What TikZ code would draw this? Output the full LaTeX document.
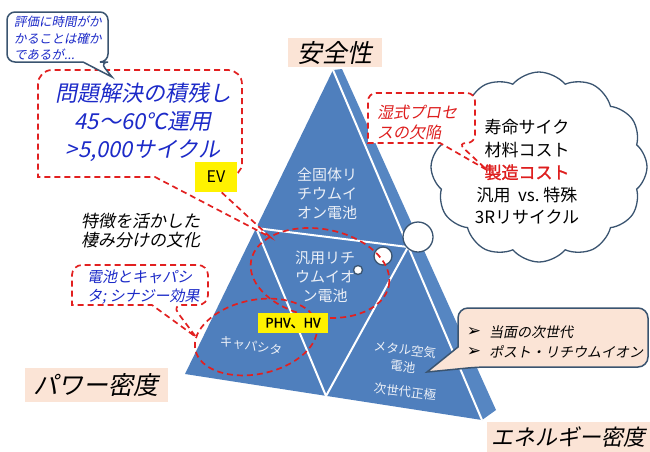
\documentclass[tikz,border=0pt]{standalone}
\usepackage{fontspec}
\setmainfont{Noto Sans CJK JP}
\newfontfamily\jit[FakeSlant=0.2]{Noto Sans CJK JP}
\newfontfamily\jbold[FakeBold=1.5]{Noto Sans CJK JP}
\newfontfamily\djv{DejaVu Sans}
\usetikzlibrary{shapes.symbols}
\definecolor{triblue}{RGB}{79,127,189}
\definecolor{triside}{RGB}{86,134,194}
\definecolor{tritext}{RGB}{236,240,247}
\definecolor{beige}{RGB}{251,228,214}
\definecolor{slate}{RGB}{58,84,112}
\definecolor{dred}{RGB}{226,32,32}
\definecolor{tblue}{RGB}{28,42,200}
\definecolor{rtext}{RGB}{222,30,30}
\newcommand{\fsz}[2]{\fontsize{#1}{#2}\selectfont}
\tikzset{
  wline/.style={white, line width=2pt},
  rdash/.style={draw=dred, line width=1.7pt, dash pattern=on 6pt off 4pt},
  slateline/.style={draw=slate, line width=1.5pt},
  tritxt/.style={text=tritext, align=center, inner sep=0pt},
  lab/.style={fill=beige, inner sep=0pt, font=\jit\fsz{25}{25}},
  thought/.style={draw=slate, line width=1.3pt, fill=white},
  ybox/.style={fill=yellow, inner sep=0pt}
}
\begin{document}
\begin{tikzpicture}[x=1pt,y=-1pt]
\useasboundingbox[fill=white] (0,0) rectangle (650,451);

% triangle
\coordinate (A) at (333,70);
\coordinate (A2) at (342,69);
\coordinate (BL) at (185,374);
\coordinate (BR) at (482,420);
\coordinate (BR2) at (496,410);
\coordinate (L1) at (256,228);
\coordinate (R1) at (408,247);
\coordinate (M) at (326,396);
\fill[triblue] (A) -- (BL) -- (BR) -- cycle;
\fill[triside] (A) -- (A2) -- (BR2) -- (BR) -- cycle;
\draw[wline] (A) -- (BR);
\draw[wline] (L1) -- (R1);
\draw[wline] (L1) -- (M) -- (R1);

\node[tritxt, font=\fsz{15}{19}] (t1) at (327,194) {全固体リ\\チウムイ\\オン電池};
\node[tritxt, font=\fsz{15}{19}] (t2) at (325,277) {汎用リチ\\ウムイオ\\ン電池};
\node[tritxt, font=\fsz{12.5}{14}, rotate=-9] (t3) at (251,346) {キャパシタ};
\node[tritxt, font=\fsz{12.5}{17}, rotate=-7] (t4) at (404,358) {メタル空気\\電池};
\node[tritxt, font=\fsz{12.5}{14}, rotate=-7] (t5) at (405,392) {次世代正極};

% cloud
\node[cloud, cloud puffs=12, cloud puff arc=100, cloud ignores aspect, draw=slate, line width=1.3pt, fill=white,
      minimum width=216pt, minimum height=190pt, inner sep=0pt] (cl) at (539,167) {};
\node[align=center, font=\fsz{17}{22.5}] (ct) at (527,172)
  {寿命サイク\\材料コスト\\{\jbold\color{rtext}製造コスト}\\汎用\ \ vs.\ 特殊\\3Rリサイクル};

% thought circles
\node[thought, circle, minimum size=30pt, inner sep=0pt] (c1) at (418,237) {};
\node[thought, circle, minimum size=18pt, inner sep=0pt] (c2) at (383,256) {};
\node[thought, circle, minimum size=9pt, inner sep=0pt] (c3) at (358,270) {};

% dashed ellipses
\draw[rdash, rotate around={-10:(320,273)}] (320,273) ellipse [x radius=70pt, y radius=44pt];
\draw[rdash, rotate around={12:(256,337)}] (256,337) ellipse [x radius=62pt, y radius=37pt];

\node[ybox, minimum width=70pt, minimum height=20pt, font=\jbold\fsz{13}{13}] (phv) at (293,323) {PHV、HV};

% wet-process callout
\draw[rdash, fill=white] (400,93) [rounded corners=8pt] -- (475,93) -- (475,143) -- (458,143)
  [sharp corners] -- (487,170) -- (440,143) -- (368,143) [rounded corners=8pt] -- (368,93) -- cycle;
\node[anchor=west, align=left, text=rtext, font=\jit\fsz{16}{20}, inner sep=0pt] (wet) at (377,122) {湿式プロセ\\スの欠陥};

% problem callout
\draw[rdash, fill=white] (90,70) [rounded corners=14pt] -- (242,70) -- (242,177) -- (205,177)
  [sharp corners] -- (270,237) -- (155,177) -- (38,177) [rounded corners=14pt] -- (38,70) -- cycle;
\node[align=center, text=tblue, font=\jit\fsz{22}{28}, inner sep=0pt] (prob) at (143,122)
  {問題解決の積残し\\45～60℃運用\\>5,000サイクル};
\node[ybox, minimum width=42pt, minimum height=30pt, font=\fsz{16}{16}] (ev) at (216,177) {EV};

% evaluation bubble
\draw[slateline, fill=white] (50,12) [rounded corners=8pt] -- (108,12) -- (108,62) -- (100,62)
  [sharp corners] -- (112,77) -- (83,62) [rounded corners=8pt] -- (7,62) -- (7,12) -- cycle;
\node[anchor=west, align=left, text=tblue, font=\jit\fsz{12.5}{16.5}, inner sep=0pt] (eval) at (14,38.5)
  {評価に時間がか\\かることは確か\\であるが...};

% culture text
\node[anchor=west, align=left, font=\jit\fsz{17}{19}, inner sep=0pt] (cult) at (81,231) {特徴を活かした\\棲み分けの文化};

% synergy callout
\draw[rdash, fill=white] (120,265) [rounded corners=10pt] -- (208,265) -- (208,305) -- (172,305)
  [sharp corners] -- (196,337) -- (152,305) -- (72,305) [rounded corners=10pt] -- (72,265) -- cycle;
\node[anchor=west, align=left, text=tblue, font=\jit\fsz{15}{19}, inner sep=0pt] (syn) at (87,287.5)
  {電池とキャパシ\\タ; シナジー効果};

% next-generation callout
\draw[slateline, fill=beige] (550,308) [rounded corners=10pt] -- (648,308) -- (648,367) -- (478,367)
  [sharp corners] -- (427,372) -- (458,347) [rounded corners=10pt] -- (458,308) -- cycle;
\node[font=\djv\fsz{17}{17}, inner sep=0pt] (b1) at (474,332) {➢};
\node[font=\djv\fsz{17}{17}, inner sep=0pt] (b2) at (474,352) {➢};
\node[anchor=west, font=\jit\fsz{14}{14}, inner sep=0pt] (n1) at (489,332) {当面の次世代};
\node[anchor=west, font=\jit\fsz{14}{14}, inner sep=0pt] (n2) at (489,352) {ポスト・リチウムイオン};

% axis labels
\node[lab, minimum width=94pt, minimum height=29pt] (safe) at (335,52.5) {安全性};
\node[lab, minimum width=143pt, minimum height=34pt] (pow) at (96,385) {パワー密度};
\node[lab, minimum width=163pt, minimum height=30pt, font=\jit\fsz{22}{22}] (ene) at (568,437) {エネルギー密度};
\end{tikzpicture}
\end{document}
